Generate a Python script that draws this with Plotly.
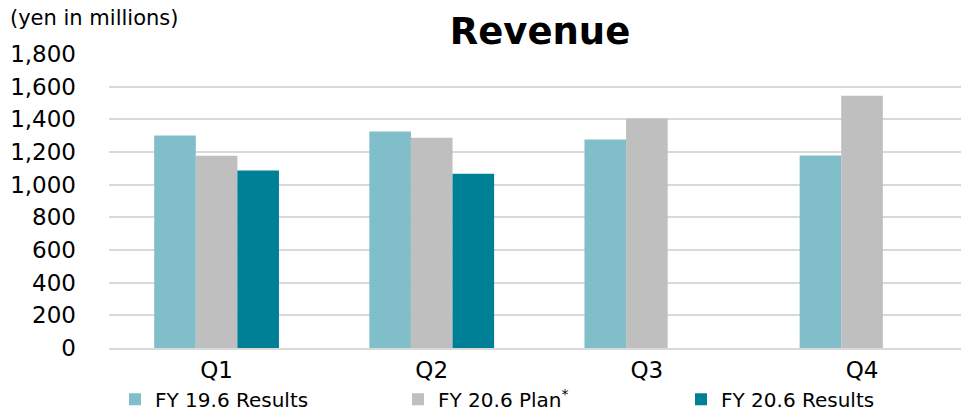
from plotly import graph_objects as plgo

quarters = ['Q1', 'Q2', 'Q3', 'Q4']
fy19_results = [1301, 1325, 1276, 1178]
fy20_plan = [1177, 1287, 1405, 1544]
fy20_results = [1087, 1067, None, None]

y_ticks = [0, 200, 400, 600, 800, 1000, 1200, 1400, 1600, 1800]

LIGHT_TEAL = '#80bfca'
GRAY = '#bfbfbf'
DARK_TEAL = '#008096'
GRID = '#d9d9d9'
FONT = 'DejaVu Sans'

fig = plgo.Figure()
fig.add_bar(x=quarters, y=fy19_results, name='FY 19.6 Results',
            marker=dict(color=LIGHT_TEAL, line=dict(width=0)))
fig.add_bar(x=quarters, y=fy20_plan, name='FY 20.6 Plan<sup>*</sup>',
            marker=dict(color=GRAY, line=dict(width=0)))
fig.add_bar(x=quarters, y=fy20_results, name='FY 20.6 Results',
            marker=dict(color=DARK_TEAL, line=dict(width=0)))

fig.update_layout(
    width=961, height=413,
    margin=dict(l=109, r=0, t=54, b=65, autoexpand=False),
    paper_bgcolor='white', plot_bgcolor='white',
    barmode='group', bargap=0.42, bargroupgap=0,
    font=dict(family=FONT, color='#000000', size=20),
    hovermode=False,
    title=dict(text='<b>Revenue</b>', x=540 / 961, xanchor='center',
               y=1 - 31 / 413, yanchor='middle',
               font=dict(family=FONT, size=37, color='#000000')),
    legend=dict(orientation='h', x=6 / 852, xanchor='left',
                y=-0.108, yanchor='top',
                entrywidth=238, entrywidthmode='pixels',
                font=dict(family=FONT, size=20, color='#000000'),
                traceorder='normal', bgcolor='rgba(0,0,0,0)'),
    showlegend=True,
)

# category axis, right edge cut off like the source picture
fig.update_xaxes(type='category', range=[-0.5, 3.46], showgrid=False,
                 showline=True, linecolor=GRID, linewidth=2,
                 ticks='', tickfont=dict(family=FONT, size=23))
fig.update_yaxes(range=[0, 1800], tickvals=y_ticks, tickformat=',',
                 showgrid=True, gridcolor=GRID, gridwidth=2,
                 zeroline=False, showline=False, ticks='',
                 ticklabelstandoff=32,
                 tickfont=dict(family=FONT, size=23))

fig.add_annotation(text='(yen in millions)', xref='paper', yref='paper',
                   x=-101 / 852, xanchor='left', y=1 + 36 / 294, yanchor='middle',
                   showarrow=False, font=dict(family=FONT, size=21, color='#000000'))

# page body has a default 8px margin; drop it so the figure fills the window
fig.write_html("out.html", config={'displayModeBar': False},
               post_script="document.body.style.margin='0';")
